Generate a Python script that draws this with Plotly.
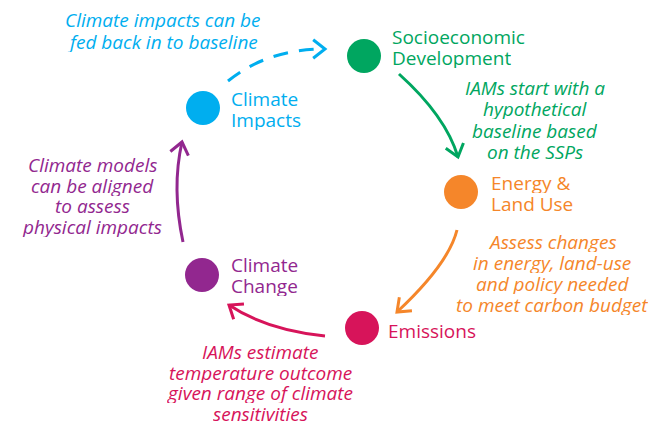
import numpy as np
import plotly.graph_objects as go

W, H = 650, 422

# Nodes of the cycle
node_names = ["Socioeconomic<br>Development", "Energy &<br>Land Use", "Emissions",
              "Climate<br>Change", "Climate<br>Impacts"]
node_x = [364, 461, 362, 202, 203]
node_y = [56, 192, 328, 275, 108]
node_colors = ["#00A660", "#F5862A", "#D7145A", "#92278F", "#00AEEF"]
label_lines = [["Socioeconomic", "Development"], ["Energy &", "Land Use"], ["Emissions"],
               ["Climate", "Change"], ["Climate", "Impacts"]]
label_x = [391, 490, 387, 230, 230]
label_y = [37, 183, 331, 265, 99]

# Connecting arrows: start, control, end (quadratic curves)
arrow_sx = [399, 457, 325, 183, 228]
arrow_sy = [74, 230, 336, 242, 81]
arrow_cx = [445.7, 448.5, 266.3, 171.5, 267.5]
arrow_cy = [116, 264, 330.1, 188, 49]
arrow_ex = [458, 397, 229, 182, 325]
arrow_ey = [157, 312, 305, 142, 49]
arrow_dash = ["solid", "solid", "solid", "solid", "15px,11px"]

# Italic notes
note_lines = [
    ["IAMs start with a", "hypothetical", "baseline based", "on the SSPs"],
    ["Assess changes", "in energy, land-use", "and policy needed", "to meet carbon budget"],
    ["IAMs estimate", "temperature outcome", "given range of climate", "sensitivities"],
    ["Climate models", "can be aligned", "to assess", "physical impacts"],
    ["Climate impacts can be", "fed back in to baseline"],
]
note_x = [535, 552, 260, 92, 162]
note_y0 = [88, 242, 352, 165, 20]
note_dy = [21.3, 21, 20.5, 20.7, 22]

fig = go.Figure()

shapes = []
for i in range(5):
    col = node_colors[i]
    path = "M %g,%g Q %g,%g %g,%g" % (arrow_sx[i], arrow_sy[i], arrow_cx[i], arrow_cy[i],
                                      arrow_ex[i], arrow_ey[i])
    shapes.append(dict(type="path", path=path, xref="x", yref="y",
                       line=dict(color=col, width=3, dash=arrow_dash[i])))
    # chevron head along end tangent
    d = np.array([arrow_ex[i] - arrow_cx[i], arrow_ey[i] - arrow_cy[i]], float)
    d /= np.linalg.norm(d)
    L, ang = 15.0, np.deg2rad(38)
    pts = []
    for s in (1, -1):
        c, sn = np.cos(s * ang), np.sin(s * ang)
        r = np.array([-(d[0] * c - d[1] * sn), -(d[0] * sn + d[1] * c)])
        pts.append((arrow_ex[i] + L * r[0], arrow_ey[i] + L * r[1]))
    hp = "M %g,%g L %g,%g L %g,%g" % (pts[0][0], pts[0][1], arrow_ex[i], arrow_ey[i],
                                      pts[1][0], pts[1][1])
    shapes.append(dict(type="path", path=hp, xref="x", yref="y",
                       line=dict(color=col, width=3)))

fig.add_trace(go.Scatter(x=node_x, y=node_y, mode="markers",
                         marker=dict(size=34, color=node_colors, line=dict(width=0)),
                         hoverinfo="text", text=node_names, showlegend=False))

annotations = []
for i in range(5):
    for k, t in enumerate(label_lines[i]):
        annotations.append(dict(x=label_x[i], y=label_y[i] + 21 * k, xref="x", yref="y",
                                text=t, showarrow=False, xanchor="left", yanchor="middle",
                                height=20, borderpad=0,
                                font=dict(family="Open Sans", size=19, color=node_colors[i])))
    for k, t in enumerate(note_lines[i]):
        annotations.append(dict(x=note_x[i], y=note_y0[i] + note_dy[i] * k, xref="x", yref="y",
                                text="<i>%s</i>" % t, showarrow=False, xanchor="center",
                                yanchor="middle", height=20, borderpad=0,
                                font=dict(family="Open Sans", size=19, color=node_colors[i])))

fig.update_layout(
    width=W, height=H, margin=dict(l=0, r=0, t=0, b=0),
    paper_bgcolor="white", plot_bgcolor="white",
    xaxis=dict(range=[0, W], visible=False, fixedrange=True),
    yaxis=dict(range=[H, 0], visible=False, fixedrange=True),
    shapes=shapes, annotations=annotations, showlegend=False,
)
fig.write_html("out.html", config={"displayModeBar": False},
               post_script="document.body.style.margin='0';"
                           "document.body.style.overflow='hidden';")
